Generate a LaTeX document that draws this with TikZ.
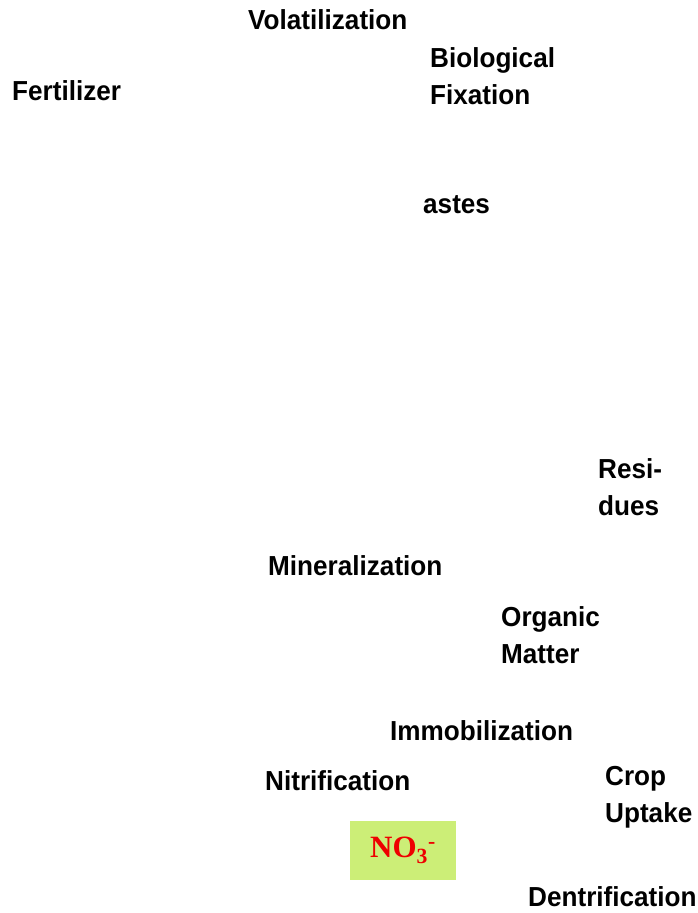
\documentclass[tikz,border=0pt]{standalone}
\usepackage{fontspec}
\setmainfont{Liberation Sans}[BoldFeatures={FakeStretch=0.95}]
\newfontfamily\serifno{Liberation Serif}
\definecolor{nobox}{HTML}{CCEE77}
\definecolor{nored}{HTML}{EE0000}
\begin{document}
\begin{tikzpicture}[x=1pt,y=-1pt,
  lbl/.style={anchor=base west,inner sep=0pt,font=\fontsize{27.5}{37}\selectfont\bfseries,align=left},
  nobx/.style={fill=nobox,draw=none,minimum width=106pt,minimum height=59pt,inner sep=0pt,
    font=\fontsize{31}{33}\serifno\bfseries,text=nored}]
\useasboundingbox (0,0) rectangle (698,913);
\node[lbl] (vol) at (248,29) {Volatilization};
\node[lbl,anchor=north west] (bio) at (430,47) {Biological\\Fixation};
\node[lbl] (fert) at (12,100.5) {Fertilizer};
\node[lbl] (wast) at (423,213) {astes};
\node[lbl,anchor=north west] (res) at (598,458) {Resi-\\dues};
\node[lbl] (min) at (268,575) {Mineralization};
\node[lbl,anchor=north west] (om) at (501,606) {Organic\\Matter};
\node[lbl] (imm) at (390,740) {Immobilization};
\node[lbl,anchor=north west] (crop) at (605,766) {Crop\\Uptake};
\node[lbl] (nit) at (265,790) {Nitrification};
\node[lbl] (den) at (528,906) {Dentrification};
\node[nobx] (no3) at (403,850.5) {NO\textsubscript{3}\textsuperscript{-}};
\end{tikzpicture}
\end{document}
